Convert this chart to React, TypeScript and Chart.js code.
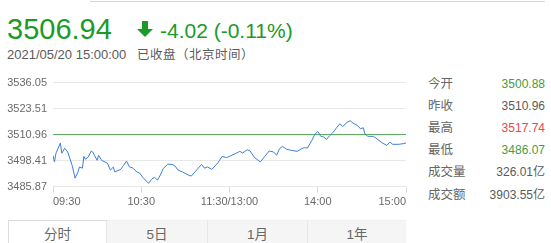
import React, { useEffect, useRef } from "react";
import { Chart, registerables } from "chart.js";

Chart.register(...registerables);

const FONT = '"Liberation Sans", Arial, "Noto Sans CJK SC", sans-serif';

// trading minutes since 09:30 (lunch break removed) and index level
const minutes = [
  0, 1, 2, 5, 6, 8, 10, 13, 15, 17, 18, 20, 21, 22, 24, 26, 27, 30, 31, 33,
  37, 39, 41, 42, 46, 48, 50, 52, 54, 57, 59, 61, 65, 67, 69, 71, 73, 75, 78, 81,
  83, 85, 88, 92, 94, 97, 101, 103, 105, 108, 112, 115, 118, 120, 124, 127, 129, 132, 134, 137,
  141, 144, 147, 150, 152, 154, 156, 159, 162, 166, 169, 171, 173, 176, 178, 180, 182, 184, 186, 188,
  190, 193, 195, 197, 200, 202, 204, 207, 209, 211, 212, 214, 218, 221, 224, 227, 229, 231, 235, 238,
  240,
];
const prices = [
  3500.88, 3497.8, 3502.0, 3506.9, 3502.0, 3504.4, 3502.6, 3496.2, 3490.0, 3493.0,
  3495.4, 3494.8, 3500.5, 3499.1, 3500.2, 3503.1, 3502.6, 3498.6, 3501.0, 3498.6,
  3497.2, 3493.9, 3495.3, 3493.0, 3494.2, 3496.2, 3498.2, 3495.4, 3495.0, 3493.0,
  3492.4, 3490.4, 3487.5, 3489.4, 3490.4, 3489.1, 3491.5, 3494.7, 3496.7, 3496.6,
  3495.8, 3493.9, 3493.0, 3491.5, 3491.0, 3493.4, 3496.6, 3494.8, 3495.4, 3494.2,
  3497.3, 3500.5, 3499.9, 3500.5, 3501.8, 3502.9, 3502.1, 3503.7, 3503.1, 3499.9,
  3497.8, 3500.5, 3503.1, 3502.6, 3501.0, 3504.2, 3505.3, 3503.9, 3503.4, 3502.9,
  3504.2, 3504.7, 3504.5, 3508.2, 3511.1, 3512.5, 3510.2, 3509.8, 3508.7, 3510.4,
  3511.7, 3514.5, 3516.2, 3514.9, 3516.9, 3517.7, 3516.5, 3515.4, 3513.8, 3514.3,
  3511.4, 3510.2, 3510.1, 3508.5, 3506.9, 3505.8, 3507.4, 3506.3, 3506.3, 3506.6,
  3506.94,
];

const yTicks = [3485.87, 3498.41, 3510.96, 3523.51, 3536.05];
const prevClose = 3510.96;
const xTickMinutes = [0, 60, 120, 180, 240];
const xTickLabels = ["09:30", "10:30", "11:30/13:00", "14:00", "15:00"];

const lastPrice = "3506.94";
const changeText = "-4.02 (-0.11%)";
const dateText = "2021/05/20 15:00:00";
const statusText = "已收盘（北京时间）";

const statLabels = ["今开", "昨收", "最高", "最低", "成交量", "成交额"];
const statValues = ["3500.88", "3510.96", "3517.74", "3486.07", "326.01亿", "3903.55亿"];
const statColors = ["#459c45", "#5a5a5a", "#e5474f", "#459c45", "#5a5a5a", "#5a5a5a"];

const tabs = ["分时", "5日", "1月", "1年"];

const GREEN = "#1c9a28";

export default function App() {
  const canvasRef = useRef<HTMLCanvasElement | null>(null);

  useEffect(() => {
    const canvas = canvasRef.current;
    if (!canvas) return;
    const chart = new Chart(canvas, {
      type: "line",
      data: {
        datasets: [
          {
            data: minutes.map((m, i) => ({ x: m, y: prices[i] })),
            borderColor: "#3d7fd9",
            borderWidth: 1,
            pointRadius: 0,
            tension: 0,
            fill: false,
          },
        ],
      },
      options: {
        animation: false,
        responsive: false,
        events: [],
        plugins: { legend: { display: false }, tooltip: { enabled: false } },
        layout: { padding: { top: 11.7, right: 4, left: 0, bottom: 0 } },
        scales: {
          x: {
            type: "linear",
            min: 0,
            max: 240,
            afterBuildTicks: (s: any) => {
              s.ticks = xTickMinutes.map((v) => ({ value: v }));
            },
            afterFit: (s: any) => {
              s.height = 23.3;
            },
            grid: { drawOnChartArea: false, drawTicks: true, tickLength: 6, color: "#d9d9d9" },
            border: { display: false },
            ticks: {
              align: "inner",
              maxRotation: 0,
              autoSkip: false,
              padding: 3,
              color: "#6a6a6a",
              font: { size: 11, family: FONT },
              callback: (v: any) => {
                const i = xTickMinutes.indexOf(Number(v));
                return i >= 0 ? xTickLabels[i] : "";
              },
            },
          },
          y: {
            type: "linear",
            min: yTicks[0],
            max: yTicks[yTicks.length - 1],
            afterBuildTicks: (s: any) => {
              s.ticks = yTicks.map((v) => ({ value: v }));
            },
            afterFit: (s: any) => {
              s.width = 53;
            },
            grid: {
              drawTicks: false,
              color: (c: any) =>
                c.tick && Math.abs(c.tick.value - prevClose) < 0.001 ? "#5cae5c" : "#e8e8e8",
            },
            border: { display: false },
            ticks: {
              padding: 6,
              color: "#6a6a6a",
              font: { size: 11, family: FONT },
              callback: (v: any) => Number(v).toFixed(2),
            },
          },
        },
      },
    } as any);
    return () => chart.destroy();
  }, []);

  const rowCenters = [84, 106, 128, 150, 172, 195];

  return (
    <div
      style={{
        position: "fixed",
        left: 0,
        top: 0,
        width: 551,
        height: 243,
        background: "#fff",
        overflow: "hidden",
        fontFamily: FONT,
      }}
    >
      <div style={{ position: "absolute", left: 90, top: 1, width: 455, height: 1, background: "#d4d4d4" }} />
      <div
        style={{
          position: "absolute",
          left: 7,
          top: 14.5,
          fontSize: 29,
          lineHeight: "29px",
          color: GREEN,
          whiteSpace: "nowrap",
        }}
      >
        {lastPrice}
      </div>
      <svg style={{ position: "absolute", left: 137, top: 21 }} width={16} height={16} viewBox="0 0 16 16">
        <path d="M5 0 H11 V8 H16 L8 16 L0 8 H5 Z" fill={GREEN} />
      </svg>
      <div
        style={{
          position: "absolute",
          left: 160,
          top: 19.5,
          fontSize: 21,
          lineHeight: "21px",
          color: GREEN,
          whiteSpace: "nowrap",
        }}
      >
        {changeText}
      </div>
      <div
        style={{
          position: "absolute",
          left: 7,
          top: 47,
          fontSize: 13,
          lineHeight: "16px",
          color: "#5a5a5a",
          whiteSpace: "nowrap",
        }}
      >
        {dateText}
      </div>
      <div
        style={{
          position: "absolute",
          left: 137,
          top: 47,
          fontSize: 12.5,
          lineHeight: "16px",
          color: "#5a5a5a",
          whiteSpace: "nowrap",
          letterSpacing: 0.5,
        }}
      >
        {statusText}
      </div>

      <canvas
        ref={canvasRef}
        width={410}
        height={140}
        style={{ position: "absolute", left: 0, top: 70, width: 410, height: 140 }}
      />

      {statLabels.map((l, i) => (
        <React.Fragment key={l}>
          <div
            style={{
              position: "absolute",
              left: 428,
              top: rowCenters[i] - 8,
              fontSize: 12.5,
              lineHeight: "16px",
              color: "#666",
              whiteSpace: "nowrap",
            }}
          >
            {l}
          </div>
          <div
            style={{
              position: "absolute",
              right: 6,
              top: rowCenters[i] - 8,
              fontSize: 12,
              lineHeight: "16px",
              color: statColors[i],
              whiteSpace: "nowrap",
              textAlign: "right",
            }}
          >
            {statValues[i]}
          </div>
        </React.Fragment>
      ))}

      {tabs.map((t, i) => {
        const lefts = [8, 107, 207, 307];
        const rights = [107, 207, 307, 406];
        const active = i === 0;
        return (
          <div
            key={t}
            style={{
              position: "absolute",
              left: lefts[i],
              top: 220,
              width: rights[i] - lefts[i],
              height: 30,
              boxSizing: "border-box",
              background: active ? "#ffffff" : "#f5f5f5",
              borderTop: active ? "1px solid #dcdcdc" : "1px solid #f0f0f0",
              borderLeft: active ? "1px solid #dcdcdc" : i > 1 ? "1px solid #e6e6e6" : "none",
              borderRight: active ? "1px solid #e6e6e6" : "none",
              textAlign: "center",
              fontSize: 13.5,
              lineHeight: "28px",
              color: "#666",
            }}
          >
            {t}
          </div>
        );
      })}
    </div>
  );
}
